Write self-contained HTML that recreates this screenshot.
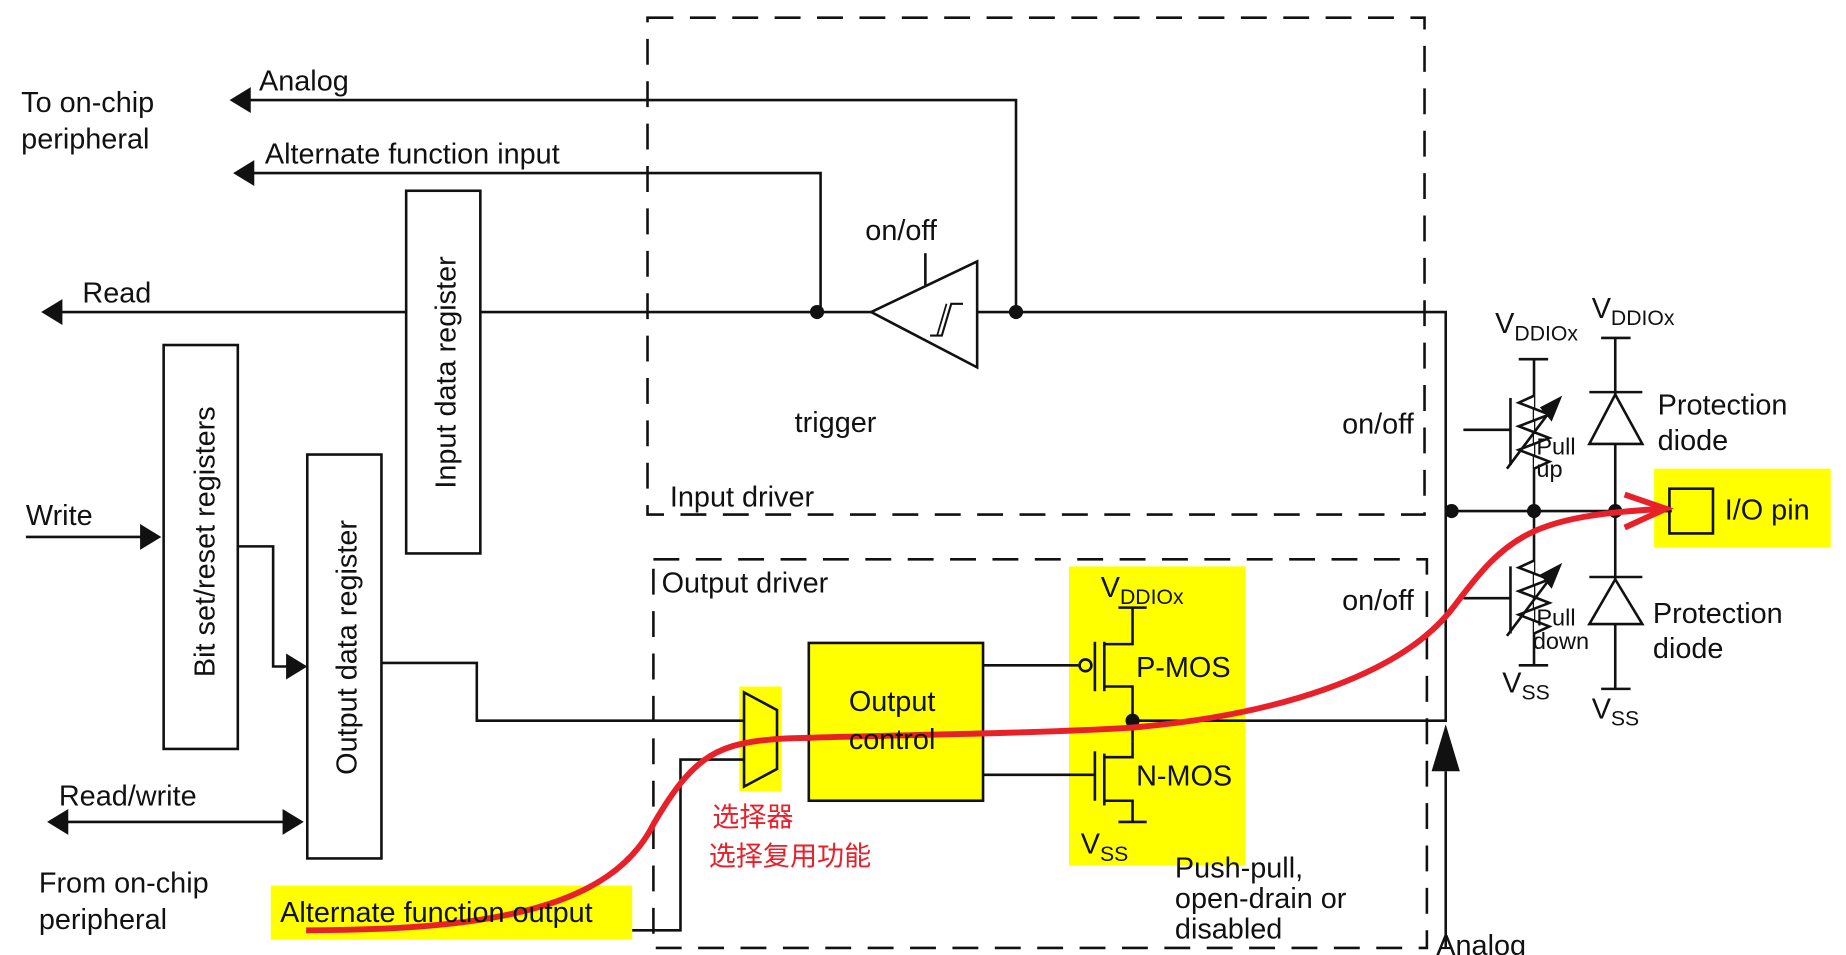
<!DOCTYPE html>
<html><head><meta charset="utf-8"><style>
html,body{margin:0;padding:0;background:#fff;}
svg{display:block}
text{font-family:"Liberation Sans",Arial,sans-serif;fill:#111;}
.zh{font-family:"Liberation Sans","Noto Sans CJK SC",sans-serif;fill:#e8202a;}
</style></head><body>
<svg width="1846" height="955" viewBox="0 0 1568 811" preserveAspectRatio="none" xmlns="http://www.w3.org/2000/svg">
<g stroke="#111" stroke-width="2.2" fill="none">
<rect x="628" y="583" width="36" height="89" fill="#ffff00" stroke="none"/>
<rect x="687" y="546" width="148" height="134" fill="#ffff00"/>
<rect x="908" y="481" width="150" height="254" fill="#ffff00" stroke="none"/>
<rect x="1405" y="398" width="150" height="67" fill="#ffff00" stroke="none"/>
<rect x="230" y="752" width="307" height="46" fill="#ffff00" stroke="none"/>
<rect x="550" y="15" width="660" height="422" stroke-dasharray="22,14"/>
<rect x="555" y="475" width="657" height="330" stroke-dasharray="22,14"/>
<polyline points="210,85 863,85 863,265"/>
<polyline points="215,147 697,147 697,265"/>
<polyline points="50,265 740,265"/>
<polyline points="830,265 1228,265 1228,612 962,612"/>
<polygon points="740,265 830,222 830,312" fill="#fff"/>
<polyline points="786,242 786,215"/>
<polyline points="790,285 800,285 808,258 818,258" stroke-width="1.8"/>
<polyline points="796,285 804,258" stroke-width="1.5"/>
<rect x="345" y="162" width="63" height="308" fill="#fff"/>
<rect x="139" y="293" width="63" height="343" fill="#fff"/>
<rect x="261" y="386" width="63" height="343" fill="#fff"/>
<polyline points="22,456 125,456"/>
<polyline points="202,464 232,464 232,566 248,566"/>
<polyline points="55,698 245,698"/>
<polyline points="324,563 405,563 405,612 632,612"/>
<polyline points="537,790 578,790 578,645 632,645"/>
<polygon points="632,588 660,603 660,653 632,668"/>
<polyline points="660,628 687,628"/>
<polyline points="835,565 916,565"/>
<circle cx="922" cy="565" r="5"/>
<polyline points="930,545 930,587"/>
<polyline points="938,545 938,587"/>
<polyline points="938,547 962,547 962,516"/>
<polyline points="950,516 974,516"/>
<polyline points="938,583 962,583 962,630"/>
<polyline points="835,658 930,658"/>
<polyline points="930,638 930,680"/>
<polyline points="938,640 938,684"/>
<polyline points="938,643 962,643 962,630"/>
<polyline points="938,680 962,680 962,698"/>
<polyline points="950,698 974,698"/>
<polyline points="1228,655 1228,805"/>
<polyline points="1233,434 1420,434"/>
<polyline points="1303,305 1303,565"/>
<polyline points="1290,305 1315,305"/>
<polyline points="1290,565 1315,565"/>
<polyline points="1243,365 1283,365"/><polyline points="1283,338 1283,395"/>
<polyline points="1243,508 1283,508"/><polyline points="1283,481 1283,538"/>
<polyline points="1303,336 1290,342 1316,352 1290,362 1316,372 1290,382 1316,392 1303,398" fill="#fff"/>
<polyline points="1303,476 1290,482 1316,492 1290,502 1316,512 1290,522 1316,532 1303,538" fill="#fff"/>
<polyline points="1280,398 1322,342"/>
<polyline points="1280,540 1322,484"/>
<polyline points="1372,287 1372,585"/>
<polyline points="1360,287 1385,287"/>
<polyline points="1360,585 1385,585"/>
<polygon points="1372,335 1350,377 1395,377" fill="#fff"/>
<polyline points="1350,333 1395,333"/>
<polygon points="1372,492 1350,530 1395,530" fill="#fff"/>
<polyline points="1350,490 1395,490"/>
<rect x="1418" y="415" width="37" height="38"/>
</g>
<g fill="#111">
<polygon points="195,85 213,74 213,96"/>
<polygon points="198,147 216,136 216,158"/>
<polygon points="35,265 53,254 53,276"/>
<polygon points="137,456 119,445 119,467"/>
<polygon points="261,566 243,555 243,577"/>
<polygon points="40,698 58,687 58,709"/>
<polygon points="258,698 240,687 240,709"/>
<polygon points="1228,615 1216,655 1240,655"/>
<polygon points="1327,336 1308,346 1318,358"/>
<polygon points="1327,478 1308,488 1318,500"/>
<circle cx="694" cy="265" r="6"/><circle cx="863" cy="265" r="6"/>
<circle cx="962" cy="612" r="6"/>
<circle cx="1233" cy="434" r="6"/><circle cx="1303" cy="434" r="6"/><circle cx="1372" cy="434" r="6"/>
</g>
<path d="M260,790 C420,790 520,770 555,700 C590,640 610,630 670,627 C760,624 880,623 960,618 C1080,608 1190,575 1235,515 C1280,455 1300,438 1415,432" stroke="#e8202a" stroke-width="5" fill="none"/>
<polyline points="1380,420 1415,432 1380,448" stroke="#e8202a" stroke-width="5" fill="none"/>
<g font-size="24.5">
<text x="220" y="77">Analog</text>
<text x="18" y="95">To on-chip</text>
<text x="18" y="126">peripheral</text>
<text x="225" y="139">Alternate function input</text>
<text x="70" y="257">Read</text>
<text x="735" y="204">on/off</text>
<text x="675" y="367">trigger</text>
<text x="1140" y="368">on/off</text>
<text x="569" y="430">Input driver</text>
<text x="22" y="446">Write</text>
<text x="562" y="503">Output driver</text>
<text x="1140" y="518">on/off</text>
<text x="721" y="604">Output</text>
<text x="721" y="636">control</text>
<text x="965" y="575">P-MOS</text>
<text x="965" y="667">N-MOS</text>
<text x="935" y="507">V<tspan font-size="18" dy="6">DDIOx</tspan></text>
<text x="918" y="725">V<tspan font-size="18" dy="6">SS</tspan></text>
<text x="998" y="745">Push-pull,</text>
<text x="998" y="771">open-drain or</text>
<text x="998" y="797">disabled</text>
<text x="50" y="684">Read/write</text>
<text x="33" y="758">From on-chip</text>
<text x="33" y="789">peripheral</text>
<text x="238" y="783">Alternate function output</text>
<text x="1220" y="811">Analog</text>
<text x="1270" y="283">V<tspan font-size="18" dy="6">DDIOx</tspan></text>
<text x="1352" y="270">V<tspan font-size="18" dy="6">DDIOx</tspan></text>
<text x="1408" y="352">Protection</text>
<text x="1408" y="382">diode</text>
<text x="1404" y="529">Protection</text>
<text x="1404" y="559">diode</text>
<text x="1465" y="441">I/O pin</text>
<text x="1276" y="588">V<tspan font-size="18" dy="6">SS</tspan></text>
<text x="1352" y="610">V<tspan font-size="18" dy="6">SS</tspan></text>
</g>
<g font-size="20">
<text x="1305" y="386">Pull</text><text x="1305" y="405">up</text>
<text x="1305" y="531">Pull</text><text x="1302" y="551">down</text>
</g>
<g font-size="24.5">
<text transform="translate(387,415) rotate(-90)">Input data register</text>
<text transform="translate(182,575) rotate(-90)">Bit set/reset registers</text>
<text transform="translate(303,658) rotate(-90)">Output data register</text>
</g>
<text class="zh" x="605" y="702" font-size="23">选择器</text>
<text class="zh" x="602" y="735" font-size="23">选择复用功能</text>
</svg>
</body></html>
